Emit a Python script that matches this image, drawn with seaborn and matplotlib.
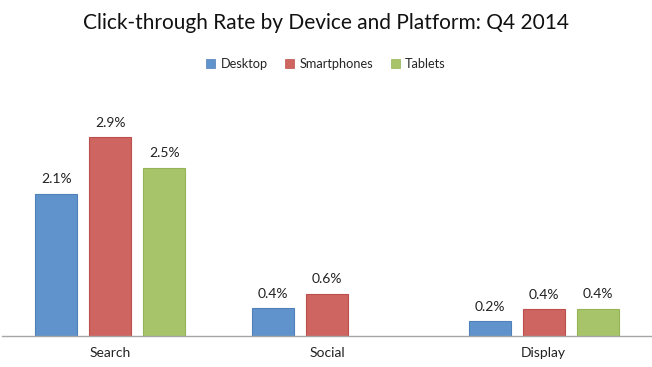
#!/usr/bin/env python
import matplotlib
matplotlib.use('Agg')
import matplotlib.pyplot as plt
import numpy as np
import pandas as pd
import seaborn as sns

# values (% click-through rate)
platforms = ['Search', 'Social', 'Display']
devices = ['Desktop', 'Smartphones', 'Tablets']
desktop = [2.10, 0.41, 0.22]
smartphones = [2.93, 0.62, 0.39]
tablets = [2.48, np.nan, 0.40]

colors = ['#6093CB', '#CE6560', '#A8C46A']
edges = ['#4F80BA', '#BC4F4B', '#95B457']

df = pd.DataFrame({
    'platform': platforms * 3,
    'device': [d for d in devices for _ in platforms],
    'ctr': desktop + smartphones + tablets,
})

sns.set_style('white')
plt.rcParams['font.family'] = ['Lato', 'DejaVu Sans']

fig = plt.figure(figsize=(6.52, 3.67), dpi=100)
ax = fig.add_axes([0.003, 0.085, 0.997, 0.60])

sns.barplot(data=df, x='platform', y='ctr', hue='device',
            order=platforms, hue_order=devices, palette=colors,
            saturation=1, width=0.747, gap=0.22, ax=ax, legend=False)

# thin darker edge like the excel original
for c, ec in zip(ax.containers, edges):
    for bar in c:
        bar.set_edgecolor(ec)
        bar.set_linewidth(0.8)
    labels = [f'{v:.1f}%' for v in c.datavalues]
    ax.bar_label(c, labels=labels, padding=6, fontsize=10, color='#222222')

ax.set_xlim(-0.5, 2.5)
ax.set_ylim(0, 3.25)
ax.set_xlabel('')
ax.set_ylabel('')
ax.set_yticks([])
ax.tick_params(axis='x', length=0, labelsize=10, pad=8, colors='#222222')
sns.despine(ax=ax, left=True)
ax.spines['bottom'].set_color('#A6A6A6')
ax.spines['bottom'].set_linewidth(1.0)

fig.text(0.5, 0.937, 'Click-through Rate by Device and Platform: Q4 2014',
         ha='center', va='center', fontsize=15, color='#111111')

handles = [plt.Rectangle((0, 0), 1, 1, fc=c, ec=e, lw=0.5)
           for c, e in zip(colors, edges)]
fig.legend(handles, devices, loc='center', bbox_to_anchor=(0.5, 0.826),
           ncol=3, frameon=False, fontsize=9.2, handlelength=0.7,
           handleheight=0.7, handletextpad=0.4, columnspacing=1.4)

fig.savefig('out.png', dpi=100)
